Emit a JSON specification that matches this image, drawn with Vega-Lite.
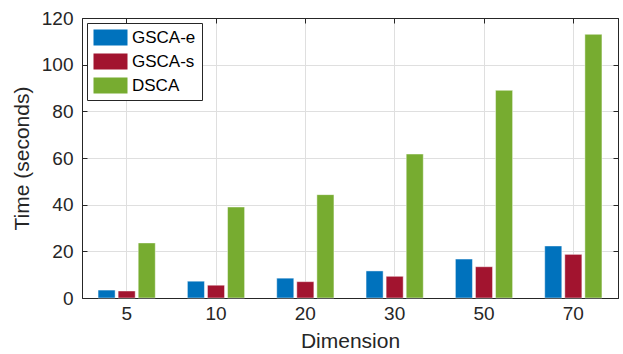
{
  "$schema": "https://vega.github.io/schema/vega-lite/v6.json",
  "width": 536,
  "height": 280,
  "autosize": "none",
  "padding": {"left": 82, "top": 18, "right": 5, "bottom": 56},
  "background": "white",
  "config": {
    "font": "Liberation Sans",
    "view": {"stroke": "#262626", "strokeWidth": 1},
    "axis": {"domainColor": "#262626", "tickColor": "#262626", "labelColor": "#262626", "titleColor": "#262626", "gridColor": "#dfdfdf", "labelFont": "Liberation Sans", "titleFont": "Liberation Sans", "titleFontWeight": "normal"}
  },
  "data": {"values": [
    {"dim": "5", "method": "GSCA-e", "time": 3.4},
    {"dim": "5", "method": "GSCA-s", "time": 3.0},
    {"dim": "5", "method": "DSCA", "time": 23.6},
    {"dim": "10", "method": "GSCA-e", "time": 7.2},
    {"dim": "10", "method": "GSCA-s", "time": 5.5},
    {"dim": "10", "method": "DSCA", "time": 39.0},
    {"dim": "20", "method": "GSCA-e", "time": 8.5},
    {"dim": "20", "method": "GSCA-s", "time": 7.0},
    {"dim": "20", "method": "DSCA", "time": 44.3},
    {"dim": "30", "method": "GSCA-e", "time": 11.6},
    {"dim": "30", "method": "GSCA-s", "time": 9.3},
    {"dim": "30", "method": "DSCA", "time": 61.7},
    {"dim": "50", "method": "GSCA-e", "time": 16.7},
    {"dim": "50", "method": "GSCA-s", "time": 13.4},
    {"dim": "50", "method": "DSCA", "time": 89.0},
    {"dim": "70", "method": "GSCA-e", "time": 22.3},
    {"dim": "70", "method": "GSCA-s", "time": 18.7},
    {"dim": "70", "method": "DSCA", "time": 113.0}
  ]},
  "layer": [
    {
      "mark": {"type": "bar", "stroke": "white", "strokeOpacity": 0.45, "strokeWidth": 1},
      "encoding": {
        "x": {"field": "dim", "type": "ordinal", "sort": null,
          "scale": {"paddingInner": 0, "paddingOuter": 0},
          "axis": {"title": "Dimension", "labelAngle": 0, "labelFontSize": 19, "titleFontSize": 21, "tickSize": -5, "labelPadding": 11, "titlePadding": 7, "grid": true, "domainWidth": 1}},
        "xOffset": {"field": "method", "type": "nominal", "sort": ["GSCA-e", "GSCA-s", "DSCA"],
          "scale": {"paddingInner": 0.15, "paddingOuter": 0.8}},
        "y": {"field": "time", "type": "quantitative",
          "scale": {"domain": [0, 120], "nice": false},
          "axis": {"title": "Time (seconds)", "values": [0, 20, 40, 60, 80, 100, 120], "labelFontSize": 19, "titleFontSize": 21, "tickSize": -5, "labelPadding": 14, "titlePadding": 9, "grid": true}},
        "color": {"field": "method", "type": "nominal",
          "scale": {"domain": ["GSCA-e", "GSCA-s", "DSCA"], "range": ["#0072BD", "#A2142F", "#77AC30"]},
          "legend": {"title": null, "orient": "none", "legendX": 5, "legendY": 5, "direction": "vertical",
            "symbolType": "M-1,-1H3.25V1H-1Z", "symbolSize": 256, "symbolStrokeWidth": 0, "symbolOpacity": 1,
            "labelFontSize": 17, "labelColor": "#000000", "rowPadding": 6, "padding": 6,
            "strokeColor": "#262626", "fillColor": "white", "labelOffset": 22}}
      }
    },
    {
      "mark": {"type": "bar", "opacity": 0},
      "encoding": {
        "x": {"field": "dim", "type": "ordinal", "sort": null,
          "axis": {"orient": "top", "title": null, "labels": false, "tickSize": -5, "grid": false}},
        "y": {"field": "time", "type": "quantitative",
          "axis": {"orient": "right", "title": null, "labels": false, "values": [0, 20, 40, 60, 80, 100, 120], "tickSize": -5, "grid": false}}
      }
    }
  ],
  "resolve": {"axis": {"x": "independent", "y": "independent"}}
}
